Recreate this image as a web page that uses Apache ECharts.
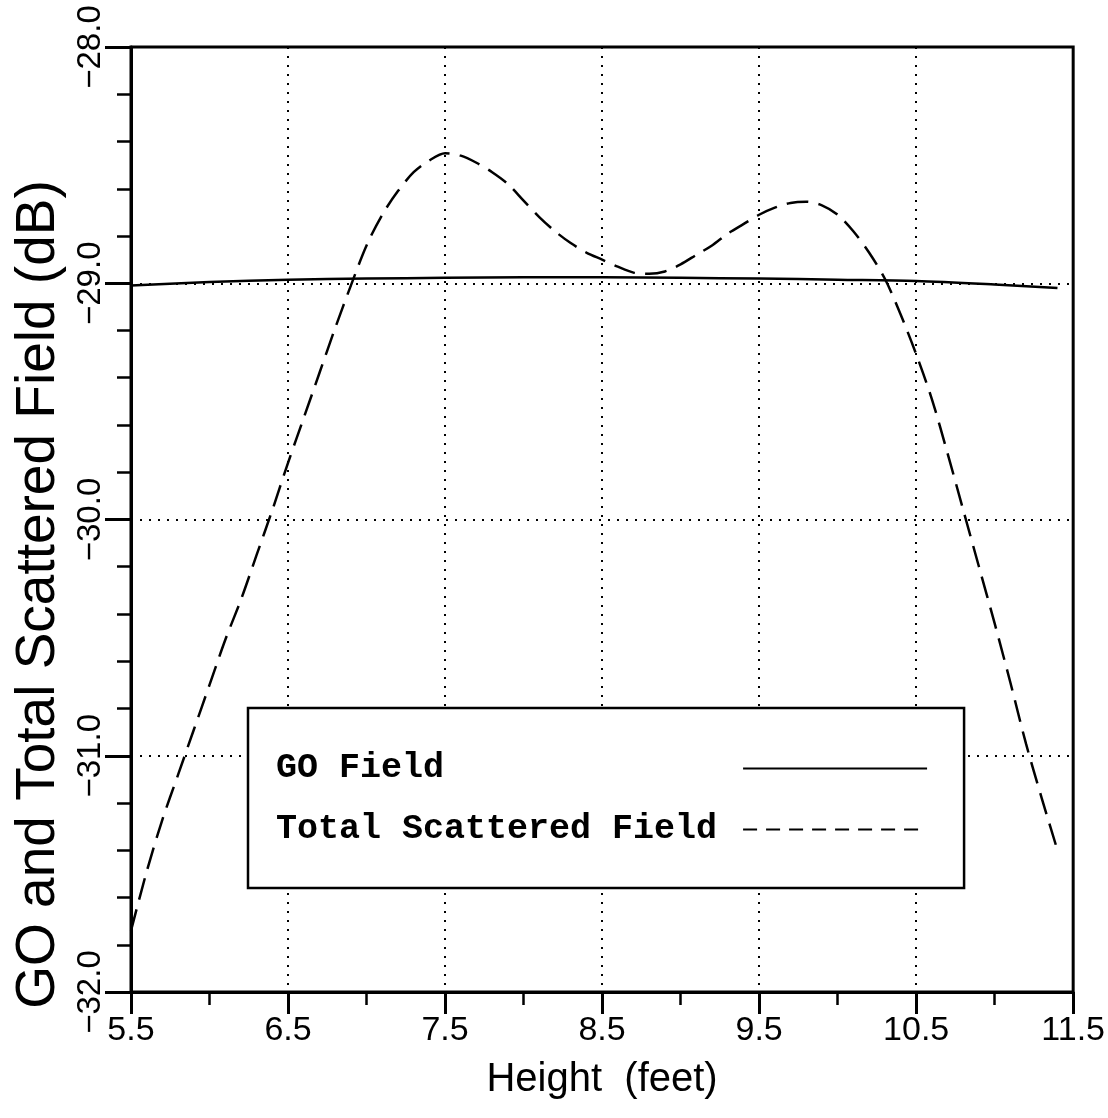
<!DOCTYPE html>
<html>
<head>
<meta charset="utf-8">
<script src="https://cdn.jsdelivr.net/npm/echarts@6/dist/echarts.min.js"></script>
<style>
  html, body { margin: 0; padding: 0; background: #fff; }
  #chart { width: 1108px; height: 1118px; }
</style>
</head>
<body>
<div id="chart"></div>
<script>
// Height (feet) and field values (dB)
const heights = [5.5, 5.6, 5.7, 5.8, 5.9, 6.0, 6.1, 6.2, 6.3, 6.4, 6.5, 6.6, 6.7, 6.8, 6.9,
  7.0, 7.1, 7.2, 7.3, 7.4, 7.5, 7.6, 7.7, 7.8, 7.9, 8.0, 8.1, 8.2, 8.3, 8.4, 8.5, 8.6, 8.7,
  8.8, 8.9, 9.0, 9.1, 9.2, 9.3, 9.4, 9.5, 9.6, 9.7, 9.8, 9.9, 10.0, 10.1, 10.2, 10.3, 10.4,
  10.5, 10.6, 10.7, 10.8, 10.9, 11.0, 11.1, 11.2, 11.3, 11.4];
const totalScattered = [-31.74, -31.49, -31.27, -31.08, -30.89, -30.70, -30.51, -30.34, -30.15, -29.96,
  -29.76, -29.57, -29.38, -29.19, -29.01, -28.84, -28.71, -28.61, -28.53, -28.48,
  -28.45, -28.46, -28.49, -28.53, -28.58, -28.65, -28.72, -28.78, -28.83, -28.87,
  -28.90, -28.93, -28.955, -28.96, -28.95, -28.92, -28.88, -28.84, -28.79, -28.75,
  -28.71, -28.68, -28.66, -28.655, -28.67, -28.71, -28.78, -28.87, -28.98, -29.13,
  -29.30, -29.49, -29.72, -29.96, -30.20, -30.44, -30.69, -30.95, -31.18, -31.40];

const goHeights = [5.5, 6.0, 6.5, 7.0, 7.5, 8.0, 8.5, 9.0, 9.5, 10.0, 10.5, 11.0, 11.4];
const goField = [-29.01, -28.995, -28.985, -28.98, -28.977, -28.975, -28.975, -28.977, -28.98,
  -28.985, -28.99, -29.005, -29.02];

const xTicks = ['5.5', '6.5', '7.5', '8.5', '9.5', '10.5', '11.5'];
const yTicks = ['\u221232.0', '\u221231.0', '\u221230.0', '\u221229.0', '\u221228.0'];

const seriesNames = ['GO Field', 'Total Scattered Field'];

const tickFont = '"Liberation Sans", Arial, sans-serif';
const nameFont = '"Liberation Sans", Arial, sans-serif';
const legendFont = '"Liberation Mono", "Courier New", monospace';

// pad legend names to the same length so the line samples line up
const padName = (name) => name + ' '.repeat(22 - name.length);

const chart = echarts.init(document.getElementById('chart'));

const option = {
  animation: false,
  backgroundColor: '#fff',
  grid: {
    left: 131, right: 29, top: 47, bottom: 126,
    show: true, borderColor: '#000', borderWidth: 3
  },
  xAxis: {
    type: 'value',
    min: 5.5, max: 11.5, interval: 1,
    name: 'Height  (feet)',
    nameLocation: 'middle',
    nameGap: 68,
    nameTextStyle: { fontFamily: nameFont, fontSize: 40, color: '#000' },
    axisLine: { lineStyle: { color: '#000', width: 3 } },
    axisTick: { show: true, length: 22, lineStyle: { color: '#000', width: 3 } },
    minorTick: { show: true, splitNumber: 2, length: 13, lineStyle: { color: '#000', width: 2.5 } },
    axisLabel: {
      margin: 22, color: '#000', fontFamily: tickFont, fontSize: 34,
      showMinLabel: true, showMaxLabel: true,
      formatter: (v) => xTicks[Math.round(v - 5.5)]
    },
    splitLine: { show: true, lineStyle: { color: '#000', width: 2, type: [2, 7] } }
  },
  yAxis: {
    type: 'value',
    min: -32, max: -28, interval: 1,
    name: 'GO and Total Scattered Field (dB)',
    nameLocation: 'middle',
    nameGap: 60,
    nameTextStyle: { fontFamily: nameFont, fontSize: 55, color: '#000', padding: [0, 150, 0, 0] },
    axisLine: { lineStyle: { color: '#000', width: 3 } },
    axisTick: { show: true, length: 26, lineStyle: { color: '#000', width: 3 } },
    minorTick: { show: true, splitNumber: 5, length: 14, lineStyle: { color: '#000', width: 2.5 } },
    axisLabel: {
      margin: 24, rotate: 90, color: '#000', fontFamily: tickFont, fontSize: 33,
      formatter: (v) => yTicks[Math.round(v + 32)]
    },
    splitLine: { show: true, lineStyle: { color: '#000', width: 2, type: [2, 7] } }
  },
  legend: {
    left: 248, top: 708,
    orient: 'vertical',
    align: 'right',
    selectedMode: false,
    backgroundColor: '#fff',
    borderColor: '#000',
    borderWidth: 2.5,
    borderRadius: 0,
    padding: [43, 36, 41, 28],
    itemGap: 26,
    itemWidth: 184,
    itemHeight: 14,
    lineStyle: { width: 2 },
    itemStyle: { opacity: 0 },
    data: [
      { name: seriesNames[0], itemStyle: { opacity: 0 } },
      { name: seriesNames[1], itemStyle: { opacity: 0 }, lineStyle: { type: [14, 9], width: 2 } }
    ],
    formatter: padName,
    textStyle: { fontFamily: legendFont, fontWeight: 'bold', fontSize: 35, color: '#000' }
  },
  series: [
    {
      name: seriesNames[0],
      type: 'line',
      symbol: 'none',
      showSymbol: false,
      smooth: 0.3,
      lineStyle: { color: '#000', width: 2.5, type: 'solid' },
      itemStyle: { color: '#000' },
      data: goHeights.map((h, i) => [h, goField[i]])
    },
    {
      name: seriesNames[1],
      type: 'line',
      symbol: 'none',
      showSymbol: false,
      smooth: 0.3,
      lineStyle: { color: '#000', width: 2.5, type: [22, 10] },
      itemStyle: { color: '#000' },
      data: heights.map((h, i) => [h, totalScattered[i]])
    }
  ]
};

chart.setOption(option);
</script>
</body>
</html>
